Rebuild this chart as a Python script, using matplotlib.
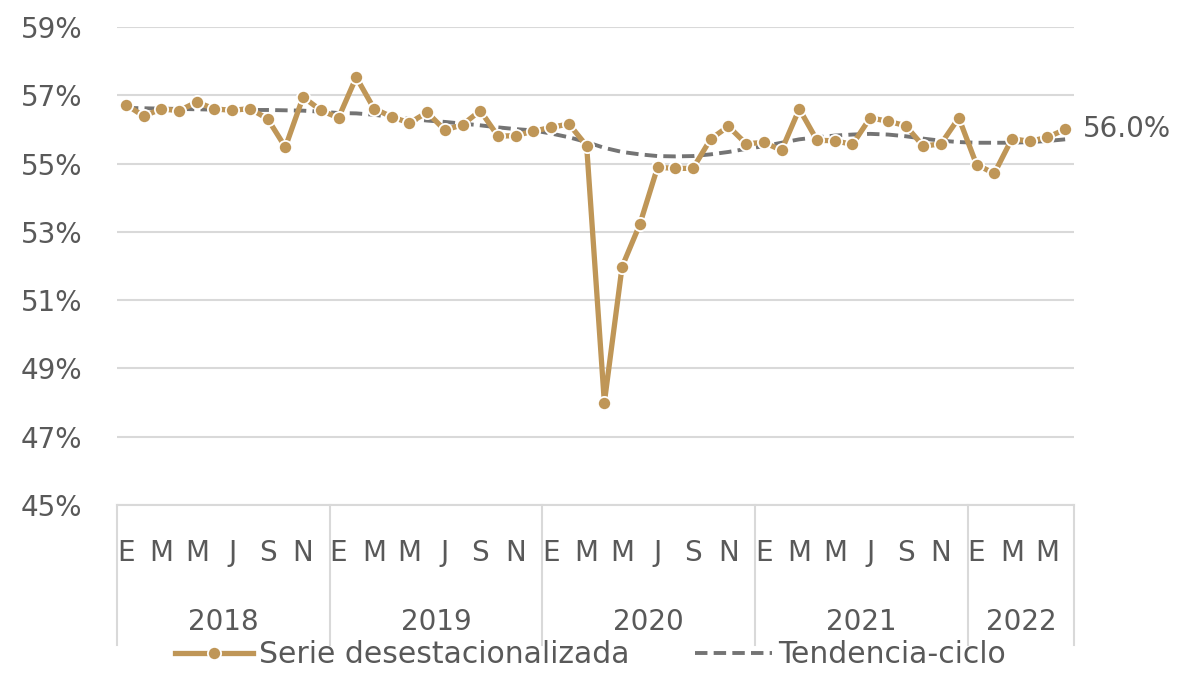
import numpy as np
import matplotlib
matplotlib.use("Agg")
import matplotlib.pyplot as plt
from matplotlib.lines import Line2D
import matplotlib.transforms as mtransforms

# ---- data ----
years = ["2018", "2019", "2020", "2021", "2022"]
months_per_year = [12, 12, 12, 12, 6]
month_labels = ["E", "M", "M", "J", "S", "N"]  # Jan, Mar, May, Jul, Sep, Nov

serie = [
    # 2018
    56.73, 56.39, 56.60, 56.55, 56.80, 56.60, 56.56, 56.61, 56.31, 55.48, 56.95, 56.56,
    # 2019
    56.34, 57.53, 56.61, 56.37, 56.19, 56.50, 55.98, 56.14, 56.55, 55.80, 55.82, 55.95,
    # 2020
    56.06, 56.16, 55.52, 48.00, 51.98, 53.22, 54.89, 54.86, 54.86, 55.72, 56.09, 55.58,
    # 2021
    55.62, 55.39, 56.60, 55.68, 55.67, 55.56, 56.34, 56.24, 56.11, 55.51, 55.58, 56.34,
    # 2022
    54.97, 54.71, 55.73, 55.65, 55.77, 56.00,
]
tendencia = [
    # 2018
    56.63, 56.62, 56.61, 56.60, 56.59, 56.58, 56.58, 56.57, 56.57, 56.56, 56.55, 56.52,
    # 2019
    56.48, 56.47, 56.43, 56.36, 56.31, 56.26, 56.22, 56.17, 56.12, 56.06, 56.01, 55.97,
    # 2020
    55.88, 55.77, 55.63, 55.46, 55.34, 55.27, 55.22, 55.21, 55.22, 55.27, 55.34, 55.43,
    # 2021
    55.51, 55.61, 55.71, 55.77, 55.82, 55.85, 55.87, 55.85, 55.80, 55.73, 55.67, 55.63,
    # 2022
    55.61, 55.61, 55.61, 55.63, 55.66, 55.71,
]
yticks = [45, 47, 49, 51, 53, 55, 57, 59]
last_label = "56.0%"

# ---- style ----
GOLD = "#BF9657"
GREY = "#747474"
TEXT = "#595959"
GRID = "#D9D9D9"
plt.rcParams["font.family"] = ["DejaVu Sans"]

fig = plt.figure(figsize=(11.81, 6.74), dpi=100)
ax = fig.add_axes([117/1181, 169/674, (1074-117)/1181, 478/674])

n = len(serie)
x = np.arange(n)

DASH = (0, (3.2, 1.6))
ax.plot(x, tendencia, color=GREY, lw=2.8, linestyle=DASH, zorder=2)
ax.plot(x, serie, color=GOLD, lw=3.8, marker="o", markersize=9.5,
        markerfacecolor=GOLD, markeredgecolor="white", markeredgewidth=1.3, zorder=3)

ax.set_xlim(-0.5, n - 0.5)
ax.set_ylim(45, 59)
ax.set_yticks(yticks)
ax.set_yticklabels([f"{v}%" for v in yticks], fontsize=20, color=TEXT)
ax.tick_params(axis="y", length=0, pad=25)
ax.set_xticks([])
ax.grid(axis="y", color=GRID, lw=1.5)
ax.set_axisbelow(True)
for s in ["top", "right", "left"]:
    ax.spines[s].set_visible(False)
ax.spines["bottom"].set_color(GRID)
ax.spines["bottom"].set_linewidth(1.5)

trans = mtransforms.blended_transform_factory(ax.transData, ax.transAxes)

# month and year labels
start = 0
bounds = [start]
for yi, (yr, nm) in enumerate(zip(years, months_per_year)):
    for k in range(0, nm, 2):
        ax.text(start + k, -0.10, month_labels[k // 2], transform=trans,
                ha="center", va="center", fontsize=20, color=TEXT)
    ax.text(start + (nm - 1) / 2, -0.245, yr, transform=trans,
            ha="center", va="center", fontsize=20, color=TEXT)
    start += nm
    bounds.append(start)

for b in bounds:
    ax.plot([b - 0.5, b - 0.5], [0, -0.293], transform=trans, color=GRID,
            lw=1.5, clip_on=False)

# last value label
ax.annotate(last_label, xy=(x[-1], serie[-1]), xytext=(13, 0),
            textcoords="offset points", ha="left", va="center",
            fontsize=20, color=TEXT)

# legend
handles = [
    Line2D([0], [0], color=GOLD, lw=3.8, marker="o", markersize=9.5,
           markerfacecolor=GOLD, markeredgecolor="white", markeredgewidth=1.3),
    Line2D([0], [0], color=GREY, lw=2.8, linestyle=DASH),
]
fig.legend(handles, ["Serie desestacionalizada", "Tendencia-ciclo"],
           loc="lower center", bbox_to_anchor=(0.5, -0.033), ncol=2,
           frameon=False, fontsize=21.5, labelcolor=TEXT, handlelength=2.6,
           handletextpad=0.2, columnspacing=2.2)

fig.savefig("out.png", dpi=100)
